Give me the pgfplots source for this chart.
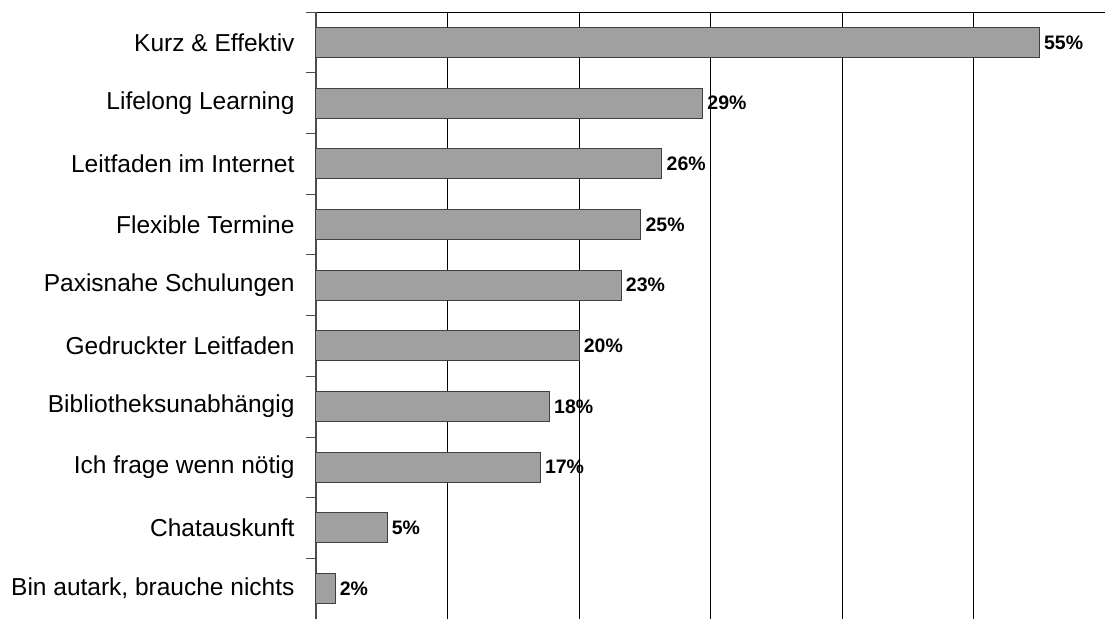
\documentclass[border=0pt]{standalone}
\usepackage{pgfplots}
\pgfplotsset{compat=1.18}
\usepackage{fontspec}
\setmainfont{Liberation Sans}
\usetikzlibrary{calc}
\definecolor{barfill}{HTML}{A0A0A0}
\definecolor{barline}{HTML}{404040}
\begin{document}
\begin{tikzpicture}
\begin{axis}[
    scale only axis,
    width=789pt, height=607pt,
    xbar, bar width=30pt,
    xmin=0, xmax=60,
    ymin=-0.5, ymax=9.5,
    y dir=reverse,
    axis x line*=top, axis y line*=left,
    x axis line style={black, line width=0.8pt},
    y axis line style={black!70, line width=1.2pt},
    xtick={0,10,...,60}, xticklabels={},
    xmajorgrids, grid style={black, line width=0.8pt},
    ytick={0,...,9},
    yticklabels={Kurz \& Effektiv, Lifelong Learning, Leitfaden im Internet, Flexible Termine, Paxisnahe Schulungen, Gedruckter Leitfaden, Bibliotheksunabhängig, Ich frage wenn nötig, Chatauskunft, {Bin autark, brauche nichts}},
    minor ytick={-0.5,0.5,...,9.5},
    major tick length=0pt,
    minor tick length=10pt,
    tick align=outside,
    minor tick style={black!70, line width=0.8pt},
    yticklabel style={font=\fontsize{24.5}{28}\selectfont, xshift=-18pt},
    point meta=explicit symbolic,
    nodes near coords={\pgfplotspointmeta\%},
    nodes near coords style={font=\bfseries\fontsize{19.5}{22}\selectfont, anchor=west, xshift=1pt},
    clip=false,
]
\addplot[fill=barfill, draw=barline, line width=1pt] coordinates {
    (55,0) [55] (29.4,1) [29] (26.3,2) [26] (24.7,3) [25] (23.2,4) [23]
    (20,5) [20] (17.75,6) [18] (17.05,7) [17] (5.4,8) [5] (1.45,9) [2]
};
\end{axis}
\pgfresetboundingbox
\path ($(current axis.south west)+(-316pt,0pt)$) rectangle ($(current axis.north east)+(0pt,12pt)$);
\end{tikzpicture}
\end{document}
